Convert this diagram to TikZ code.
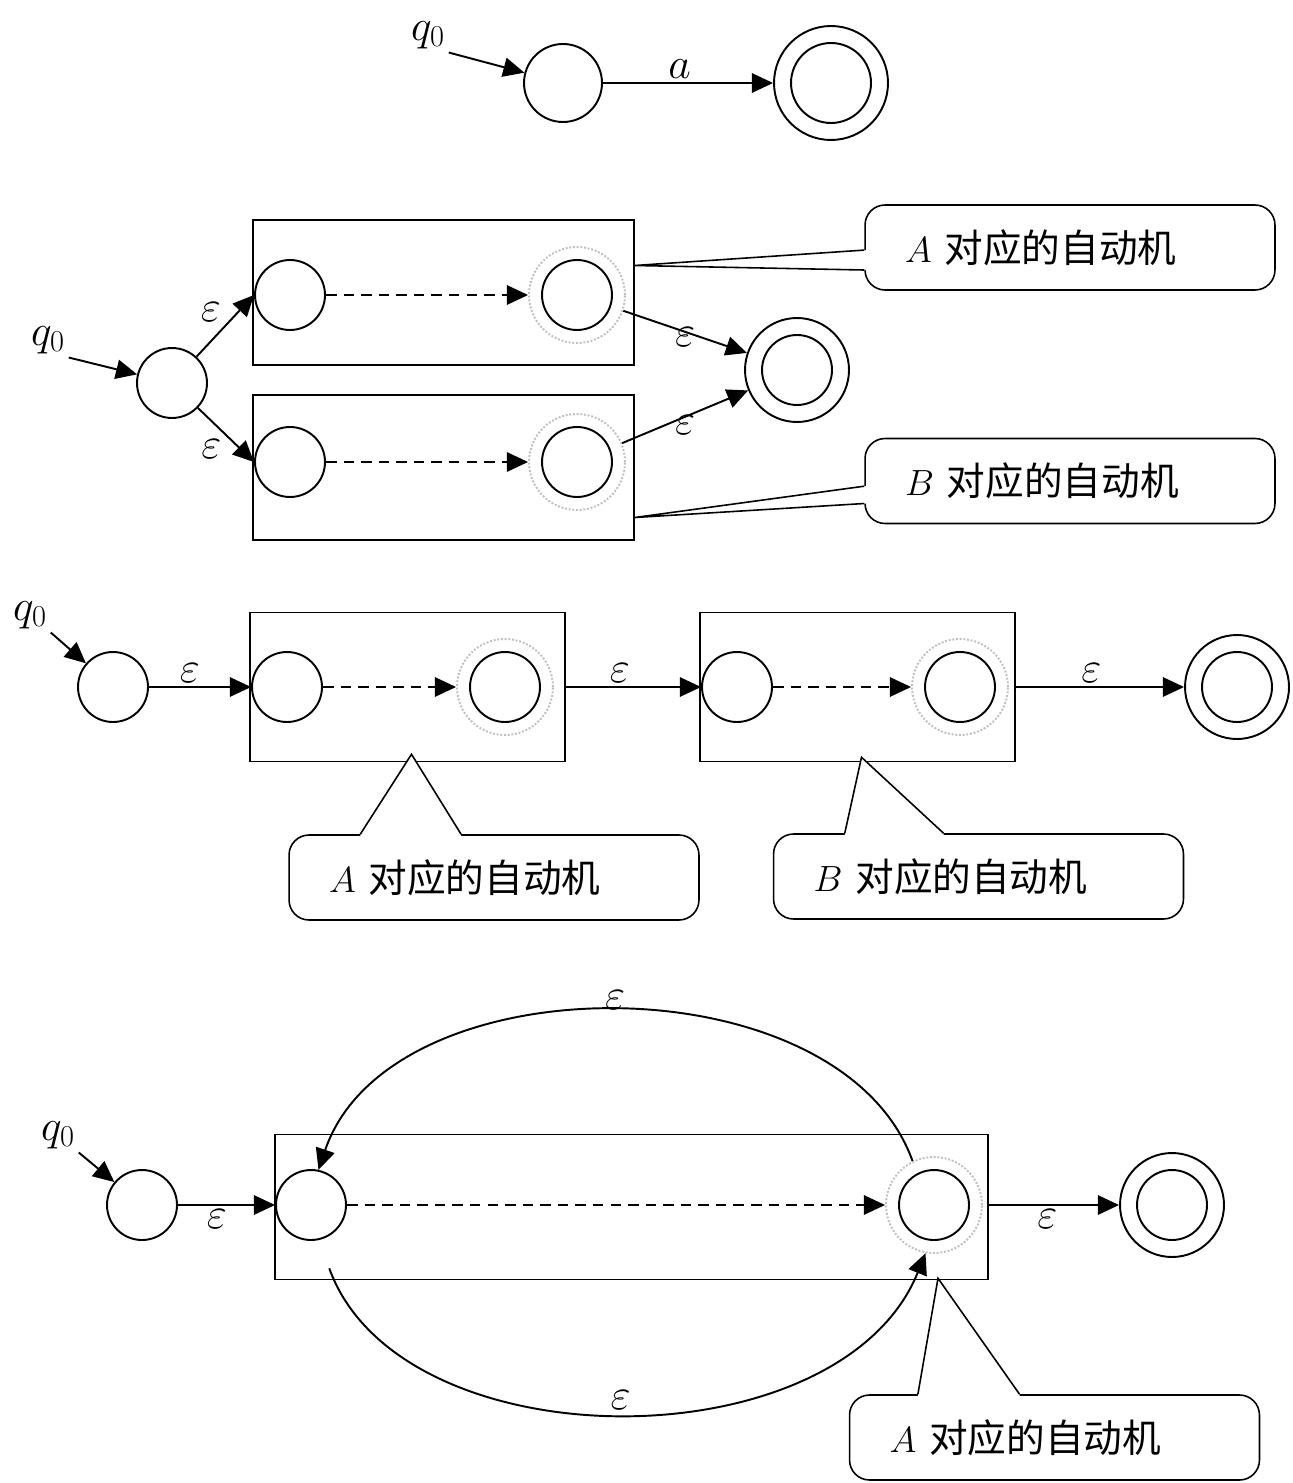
\documentclass[tikz,border=0pt]{standalone}
\usepackage{fontspec}
\newfontfamily\cjk{Noto Sans CJK SC}
\usetikzlibrary{arrows.meta, calc}

\begin{document}
\begin{tikzpicture}[x=0.02cm, y=-0.02cm,
  st/.style={circle, draw, line width=1.1pt, minimum size=1.4cm, inner sep=0pt},
  acc/.style={circle, draw=gray!50, densely dotted, line width=1.1pt, minimum size=1.92cm, inner sep=0pt},
  fin/.style={circle, draw, line width=1.1pt, minimum size=2.08cm, inner sep=0pt},
  mbox/.style={draw, line width=0.9pt, minimum width=7.62cm, minimum height=2.9cm, inner sep=0pt},
  cbox/.style={draw, line width=0.9pt, rounded corners=0.4cm, text width=6.6cm, align=left, inner xsep=0.8cm, minimum height=1.7cm, font=\fontsize{22pt}{26pt}\selectfont},
  cline/.style={line width=0.9pt},
  lbl/.style={font=\fontsize{24pt}{28pt}\selectfont, inner sep=2pt},
  arr/.style={-{Triangle[length=12pt, width=11pt]}, line width=1.1pt},
  darr/.style={arr, dash pattern=on 6pt off 4pt}
]
  \useasboundingbox (0,0) rectangle (1293,1483);

  % single symbol a
  \node[lbl] (q0a) at (428,35) {$q_0$};
  \node[st, minimum size=1.56cm] (s1) at (563,83) {};
  \node[fin, minimum size=2.28cm] (f1) at (831,83) {};
  \node[st, minimum size=1.6cm] (f1i) at (f1) {};
  \draw[arr] (q0a.south east) -- (s1);
  \draw[arr] (s1) -- node[lbl, above, pos=0.45] {$a$} (f1);

  % union A|B
  \node[lbl] (q0b) at (48,340) {$q_0$};
  \node[st] (s2) at (172,383) {};
  \node[mbox] (boxA2) at (443.5,292.5) {};
  \node[mbox] (boxB2) at (443.5,467.5) {};
  \node[st] (a2s) at (290,295) {};
  \node[acc] (a2f) at (577,295) {};
  \node[st] (a2fi) at (a2f) {};
  \node[st] (b2s) at (290,462) {};
  \node[acc] (b2f) at (577,462) {};
  \node[st] (b2fi) at (b2f) {};
  \node[fin] (f2) at (797,370) {};
  \node[st] (f2i) at (f2) {};
  \draw[arr] (q0b.south east) -- (s2);
  \draw[arr] (s2) -- node[lbl, above left] {$\varepsilon$} (a2s.west);
  \draw[arr] (s2) -- node[lbl, below left] {$\varepsilon$} (b2s.west);
  \draw[darr] (a2s) -- (a2f);
  \draw[darr] (b2s) -- (b2f);
  \draw[arr] (a2f) -- node[lbl, midway, yshift=-3pt] {$\varepsilon$} (f2);
  \draw[arr] (b2f) -- node[lbl, midway, yshift=-5pt] {$\varepsilon$} (f2);

  \node[cbox] (cA2) at (1070,247.5) {$A$ {\cjk 对应的自动机}};
  \coordinate (tA2) at ($(boxA2.east)+(0,-27)$);
  \coordinate (jA2a) at ($(cA2.north west)!0.53!(cA2.south west)$);
  \coordinate (jA2b) at ($(cA2.north west)!0.76!(cA2.south west)$);
  \fill[white] (jA2a) -- (tA2) -- (jA2b) -- ++(4,0) -- ($(jA2a)+(4,0)$) -- cycle;
  \draw[cline] (jA2a) -- (tA2) -- (jA2b);

  \node[cbox] (cB2) at (1070,481) {$B$ {\cjk 对应的自动机}};
  \coordinate (tB2) at ($(boxB2.east)+(0,50)$);
  \coordinate (jB2a) at ($(cB2.north west)!0.56!(cB2.south west)$);
  \coordinate (jB2b) at ($(cB2.north west)!0.76!(cB2.south west)$);
  \fill[white] (jB2a) -- (tB2) -- (jB2b) -- ++(4,0) -- ($(jB2a)+(4,0)$) -- cycle;
  \draw[cline] (jB2a) -- (tB2) -- (jB2b);

  % concatenation AB
  \node[lbl] (q0c) at (30,615) {$q_0$};
  \node[st] (s3) at (113,687) {};
  \node[mbox, minimum width=6.3cm, minimum height=2.98cm] (boxA3) at (407.5,687) {};
  \node[mbox, minimum width=6.3cm, minimum height=2.98cm] (boxB3) at (857.5,687) {};
  \node[st] (a3s) at (287,687) {};
  \node[acc] (a3f) at (505,687) {};
  \node[st] (a3fi) at (a3f) {};
  \node[st] (b3s) at (737,687) {};
  \node[acc] (b3f) at (960,687) {};
  \node[st] (b3fi) at (b3f) {};
  \node[fin] (f3) at (1237,687) {};
  \node[st] (f3i) at (f3) {};
  \draw[arr] (q0c.south east) -- (s3);
  \draw[arr] (s3) -- node[lbl, above, pos=0.4] {$\varepsilon$} (a3s);
  \draw[darr] (a3s) -- (a3f);
  \draw[arr] (boxA3.east) -- node[lbl, above, pos=0.4] {$\varepsilon$} (b3s);
  \draw[darr] (b3s) -- (b3f);
  \draw[arr] (boxB3.east) -- node[lbl, above, pos=0.45] {$\varepsilon$} (f3);

  \node[cbox] (cA3) at (494,877.5) {$A$ {\cjk 对应的自动机}};
  \coordinate (tA3) at ($(boxA3.south)+(4,-8)$);
  \coordinate (jA3a) at ($(cA3.north west)!0.175!(cA3.north east)$);
  \coordinate (jA3b) at ($(cA3.north west)!0.42!(cA3.north east)$);
  \fill[white] (jA3a) -- (tA3) -- (jA3b) -- ++(0,4) -- ($(jA3a)+(0,4)$) -- cycle;
  \draw[cline] (jA3a) -- (tA3) -- (jA3b);

  \node[cbox] (cB3) at (978.5,876.5) {$B$ {\cjk 对应的自动机}};
  \coordinate (tB3) at ($(boxB3.south)+(4,-5)$);
  \coordinate (jB3a) at ($(cB3.north west)!0.175!(cB3.north east)$);
  \coordinate (jB3b) at ($(cB3.north west)!0.415!(cB3.north east)$);
  \fill[white] (jB3a) -- (tB3) -- (jB3b) -- ++(0,4) -- ($(jB3a)+(0,4)$) -- cycle;
  \draw[cline] (jB3a) -- (tB3) -- (jB3b);

  % closure A*
  \node[lbl] (q0d) at (58,1135) {$q_0$};
  \node[st] (s4) at (142,1205) {};
  \node[mbox, minimum width=14.26cm] (box4) at (631.5,1207) {};
  \node[st] (d4s) at (311,1205) {};
  \node[acc] (d4f) at (934,1205) {};
  \node[st] (d4fi) at (d4f) {};
  \node[fin] (f4) at (1172,1205) {};
  \node[st] (f4i) at (f4) {};
  \draw[arr] (q0d.south east) -- (s4);
  \draw[arr] (s4) -- node[lbl, below, pos=0.4] {$\varepsilon$} (d4s);
  \draw[darr] (d4s) -- (d4f);
  \draw[arr] (box4.east |- f4) -- node[lbl, below, pos=0.45] {$\varepsilon$} (f4);
  \draw[arr] (d4f.116) .. controls (840,959) and (390,959) .. node[lbl, pos=0.5, above, inner sep=0pt] {$\varepsilon$} (d4s.78);
  \draw[arr, shorten <=0.6cm] (d4s.-77) .. controls (400,1465) and (840,1465) .. node[lbl, pos=0.5, above, inner sep=0pt] {$\varepsilon$} (d4f.-100);

  \node[cbox] (cA4) at (1054.5,1437.5) {$A$ {\cjk 对应的自动机}};
  \coordinate (tA4) at ($(box4.south -| d4f)+(4,-2)$);
  \coordinate (jA4a) at ($(cA4.north west)!0.168!(cA4.north east)$);
  \coordinate (jA4b) at ($(cA4.north west)!0.415!(cA4.north east)$);
  \fill[white] (jA4a) -- (tA4) -- (jA4b) -- ++(0,4) -- ($(jA4a)+(0,4)$) -- cycle;
  \draw[cline] (jA4a) -- (tA4) -- (jA4b);
\end{tikzpicture}
\end{document}
